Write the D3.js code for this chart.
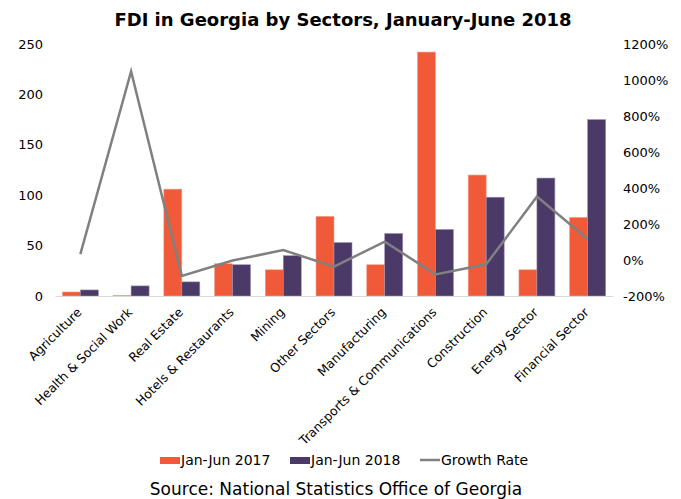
<!DOCTYPE html>
<html>
<head>
<meta charset="utf-8">
<script src="https://cdn.jsdelivr.net/npm/d3@7"></script>
<style>
  body { margin: 0; background: #fff; }
  text { font-family: "DejaVu Sans", sans-serif; fill: #000; }
</style>
</head>
<body>
<svg id="chart"></svg>
<script>
var sectors = ["Agriculture", "Health & Social Work", "Real Estate", "Hotels & Restaurants", "Mining",
	"Other Sectors", "Manufacturing", "Transports & Communications", "Construction", "Energy Sector", "Financial Sector"];
var fdi2017 = [4, 0.5, 106, 32, 26, 79, 31, 242, 120, 26, 78];
var fdi2018 = [6, 10, 14, 31, 40, 53, 62, 66, 98, 117, 175];
var growth = [0.33, 10.48, -0.89, -0.03, 0.55, -0.37, 1.02, -0.80, -0.24, 3.52, 1.17];
var leftTicks = [0, 50, 100, 150, 200, 250];
var rightTicks = [-2, 0, 2, 4, 6, 8, 10, 12];

var width = 681, height = 499;
var margin = {top: 44, right: 68, bottom: 203, left: 55};
var w = width - margin.left - margin.right;
var h = height - margin.top - margin.bottom;

var svg = d3.select("#chart").attr("width", width).attr("height", height);

svg.append("text")
	.attr("x", 343).attr("y", 26)
	.attr("text-anchor", "middle")
	.style("font-size", "18px").style("font-weight", "bold")
	.text("FDI in Georgia by Sectors, January-June 2018");

var g = svg.append("g").attr("transform", "translate(" + margin.left + "," + margin.top + ")");

var x = d3.scaleBand().domain(sectors).range([0, w]);
var x1 = d3.scaleBand().domain(["a", "b"]).range([0, x.bandwidth()]).paddingOuter(0.41).paddingInner(0);
var y = d3.scaleLinear().domain([0, 250]).range([h, 0]);
var y2 = d3.scaleLinear().domain([-2, 12]).range([h, 0]);

// left axis
var yAxis = g.append("g")
	.call(d3.axisLeft(y).tickValues(leftTicks).tickSize(0).tickPadding(12));
yAxis.select(".domain").remove();
yAxis.selectAll("text").style("font-size", "13px").style("font-family", "DejaVu Sans");

// right axis
var y2Axis = g.append("g").attr("transform", "translate(" + w + ",0)")
	.call(d3.axisRight(y2).tickValues(rightTicks).tickSize(0).tickPadding(10)
		.tickFormat(function(d) { return Math.round(d * 100) + "%"; }));
y2Axis.select(".domain").remove();
y2Axis.selectAll("text").style("font-size", "13px").style("font-family", "DejaVu Sans");

// bars
var groups = g.selectAll(".grp").data(sectors).enter().append("g")
	.attr("transform", function(d) { return "translate(" + x(d) + ",0)"; });
groups.append("rect")
	.attr("x", x1("a")).attr("width", x1.bandwidth())
	.attr("y", function(d, i) { return y(fdi2017[i]); })
	.attr("height", function(d, i) { return h - y(fdi2017[i]); })
	.attr("fill", "#f05a38").attr("stroke", "#f7a08c").attr("stroke-width", 0.6);
groups.append("rect")
	.attr("x", x1("b")).attr("width", x1.bandwidth())
	.attr("y", function(d, i) { return y(fdi2018[i]); })
	.attr("height", function(d, i) { return h - y(fdi2018[i]); })
	.attr("fill", "#4b3a67").attr("stroke", "#9a8fae").attr("stroke-width", 0.6);

// x axis
var xAxis = g.append("g").attr("transform", "translate(0," + h + ")")
	.call(d3.axisBottom(x).tickSize(0));
xAxis.select(".domain").attr("stroke", "#d9d9d9");
xAxis.selectAll("text")
	.style("font-size", "12.5px").style("font-family", "DejaVu Sans")
	.attr("text-anchor", "end")
	.attr("x", 0).attr("y", 0).attr("dy", 0)
	.attr("transform", "translate(2,17) rotate(-45)");

// growth line
var line = d3.line()
	.x(function(d, i) { return x(sectors[i]) + x.bandwidth() / 2; })
	.y(function(d) { return y2(d); });
g.append("path").datum(growth)
	.attr("d", line)
	.attr("fill", "none").attr("stroke", "#808080").attr("stroke-width", 2.5);

// legend
var legend = svg.append("g").attr("transform", "translate(0,460)");
var items = [
	{label: "Jan-Jun 2017", color: "#f05a38", type: "rect", x: 160},
	{label: "Jan-Jun 2018", color: "#4b3a67", type: "rect", x: 290},
	{label: "Growth Rate", color: "#808080", type: "line", x: 420}
];
items.forEach(function(it) {
	if (it.type === "rect") {
		legend.append("rect").attr("x", it.x).attr("y", -3).attr("width", 20).attr("height", 7).attr("fill", it.color);
	} else {
		legend.append("line").attr("x1", it.x).attr("x2", it.x + 20).attr("y1", 0).attr("y2", 0)
			.attr("stroke", it.color).attr("stroke-width", 2.5);
	}
	legend.append("text").attr("x", it.x + 21).attr("y", 5)
		.style("font-size", "14px").text(it.label);
});

svg.append("text")
	.attr("x", 336).attr("y", 495)
	.attr("text-anchor", "middle")
	.style("font-size", "17px")
	.text("Source: National Statistics Office of Georgia");
</script>
</body>
</html>
